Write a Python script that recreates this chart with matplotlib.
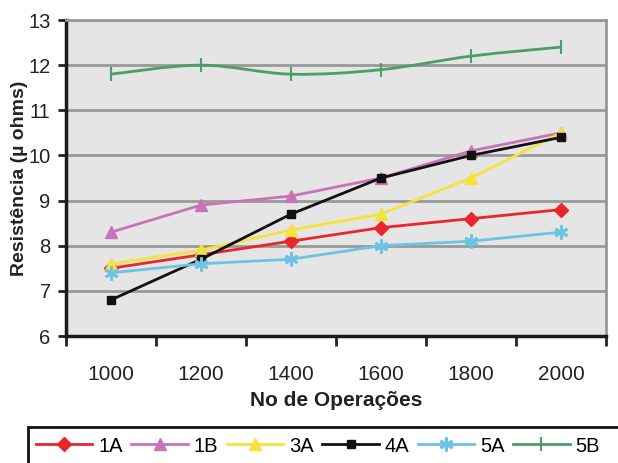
import numpy as np
import matplotlib.pyplot as plt
from matplotlib.path import Path
from matplotlib.patches import PathPatch, Rectangle

plt.rcParams['font.family'] = ['Liberation Sans', 'DejaVu Sans']

# Data
operations = ['1000', '1200', '1400', '1600', '1800', '2000']
r_1a = [7.5, 7.8, 8.1, 8.4, 8.6, 8.8]
r_1b = [8.3, 8.9, 9.1, 9.5, 10.1, 10.5]
r_3a = [7.6, 7.9, 8.35, 8.7, 9.5, 10.5]
r_4a = [6.8, 7.7, 8.7, 9.5, 10.0, 10.4]
r_5a = [7.4, 7.6, 7.7, 8.0, 8.1, 8.3]
r_5b = [11.8, 12.0, 11.8, 11.9, 12.2, 12.4]

x = np.arange(len(operations))

W, H = 618, 463
fig = plt.figure(figsize=(W / 100, H / 100), dpi=100)
ax = fig.add_axes([66 / W, 1 - 336 / H, 540 / W, 316 / H])
ax.set_facecolor('#e5e5e5')


def smooth_path(xs, ys):
    # Catmull-Rom -> cubic bezier, like Excel's smoothed line
    pts = np.column_stack([xs, ys]).astype(float)
    verts = [pts[0]]
    codes = [Path.MOVETO]
    n = len(pts)
    for i in range(n - 1):
        p0 = pts[i - 1] if i > 0 else pts[i]
        p1 = pts[i]
        p2 = pts[i + 1]
        p3 = pts[i + 2] if i + 2 < n else pts[i + 1]
        c1 = p1 + (p2 - p0) / 6
        c2 = p2 - (p3 - p1) / 6
        verts += [c1, c2, p2]
        codes += [Path.CURVE4] * 3
    return Path(verts, codes)


series = [
    ('1A', r_1a, '#e8262b', 'D', 7),
    ('1B', r_1b, '#c873b8', '^', 8),
    ('3A', r_3a, '#f5e23c', '^', 8),
    ('4A', r_4a, '#111111', 's', 6),
    ('5A', r_5a, '#6cc3e3', (6, 2, 0), 10),
]
for name, vals, col, mk, ms in series:
    ax.plot(x, vals, color=col, lw=2, marker=mk, ms=ms, label=name, zorder=3,
            markeredgewidth=2 if name == '5A' else 1)

# 5B drawn as a smoothed line
ax.add_patch(PathPatch(smooth_path(x, r_5b), fill=False, edgecolor='#4a9e6a', lw=2, zorder=3))
ax.plot(x, r_5b, ls='none', marker='|', ms=10, mew=1.5, color='#4a9e6a', zorder=3)
ax.plot([], [], color='#4a9e6a', lw=2, marker='|', ms=10, mew=1.5, label='5B')

ax.set_xlim(-0.5, 5.5)
ax.set_ylim(6, 13)
ax.set_yticks(range(6, 14))
ax.set_xticks(x)
ax.set_xticklabels(operations)
ax.set_xticks(np.arange(-0.5, 6, 1), minor=True)
ax.tick_params(axis='x', which='major', length=0, pad=21, labelsize=15, colors='#222222')
ax.tick_params(axis='x', which='minor', length=7, width=2, direction='out', color='#222222')
ax.tick_params(axis='y', length=6, width=2, direction='out', labelsize=14.5, pad=5,
               color='#222222', labelcolor='#222222')

ax.grid(axis='y', color='#999999', lw=2)
ax.set_axisbelow(True)
for s in ['top', 'right']:
    ax.spines[s].set_color('#999999')
    ax.spines[s].set_linewidth(2)
for s in ['left', 'bottom']:
    ax.spines[s].set_color('#1a1a1a')
    ax.spines[s].set_linewidth(2.5)

ax.set_xlabel('No de Operações', fontsize=15, fontweight='bold', labelpad=5, color='#222222')
ax.set_ylabel('Resistência (µ ohms)', fontsize=14, fontweight='bold', labelpad=0, color='#222222')

# legend box runs off the right and bottom edges, as in the original
fig.patches.append(Rectangle((28 / W, -0.05), 0.97, (0.05 + 1 - 427 / H), transform=fig.transFigure,
                             fill=False, edgecolor='#111111', lw=2))
leg = fig.legend(loc='center left', bbox_to_anchor=(30 / W, 1 - 446 / H), ncol=6,
                 fontsize=14.5, frameon=False,
                 handlelength=2.8, columnspacing=0.42, handletextpad=0.3,
                 borderpad=0.3, borderaxespad=0)

fig.savefig('out.png', dpi=100)
